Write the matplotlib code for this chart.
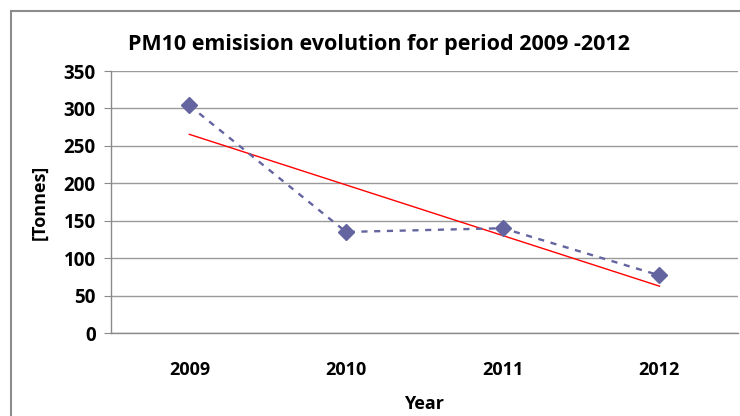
import numpy as np
import matplotlib.pyplot as plt
from matplotlib.lines import Line2D

# data
years = ["2009", "2010", "2011", "2012"]
pm10 = [304, 135, 140, 77]
y_ticks = [0, 50, 100, 150, 200, 250, 300, 350]

plt.rcParams['font.family'] = ['Open Sans', 'DejaVu Sans']
plt.rcParams['font.weight'] = 'bold'

fig = plt.figure(figsize=(7.4, 4.16), dpi=100)
ax = fig.add_axes([0.15, 0.1995, 0.847, 0.6298])

x = np.arange(len(years))
# linear trend line (least squares), like the spreadsheet's trendline
slope, icpt = np.polyfit(x, pm10, 1)
ax.plot(x, slope * x + icpt, color='red', lw=1.0, zorder=3)

ax.plot(x, pm10, color='#6464A0', lw=1.7, ls=(0, (2.6, 2.8)),
        marker='D', markersize=8.5, zorder=4)

ax.set_xlim(-0.5, 3.5)
ax.set_ylim(0, 350)
ax.set_yticks(y_ticks)
ax.set_xticks(x)
ax.set_xticklabels(years)
ax.grid(axis='y', color='#9A9A9A', lw=1.0)
ax.set_axisbelow(True)

for s in ['top', 'right']:
    ax.spines[s].set_visible(False)
for s in ['left', 'bottom']:
    ax.spines[s].set_color('#8A8A8A')
    ax.spines[s].set_linewidth(1.0)

ax.tick_params(axis='y', length=5, color='#8A8A8A', labelsize=13.5, pad=6)
ax.tick_params(axis='x', length=0, labelsize=13, pad=20)

ax.set_title('PM10 emisision evolution for period 2009 -2012',
             fontsize=15.5, fontweight='bold', pad=15, x=0.427)
ax.set_xlabel('Year', fontsize=13, fontweight='bold', labelpad=12)
ax.set_ylabel('[Tonnes]', fontsize=13, fontweight='bold', labelpad=11)

# outer chart frame (only left and top edges are inside the picture)
fx, fy = 10.5 / 740, 1 - 10.5 / 416
fig.add_artist(Line2D([fx, fx], [0, fy], transform=fig.transFigure,
                      color='#8C8C8C', lw=1.5))
fig.add_artist(Line2D([fx, 1], [fy, fy], transform=fig.transFigure,
                      color='#8C8C8C', lw=1.5))

fig.savefig('out.png', dpi=100)
